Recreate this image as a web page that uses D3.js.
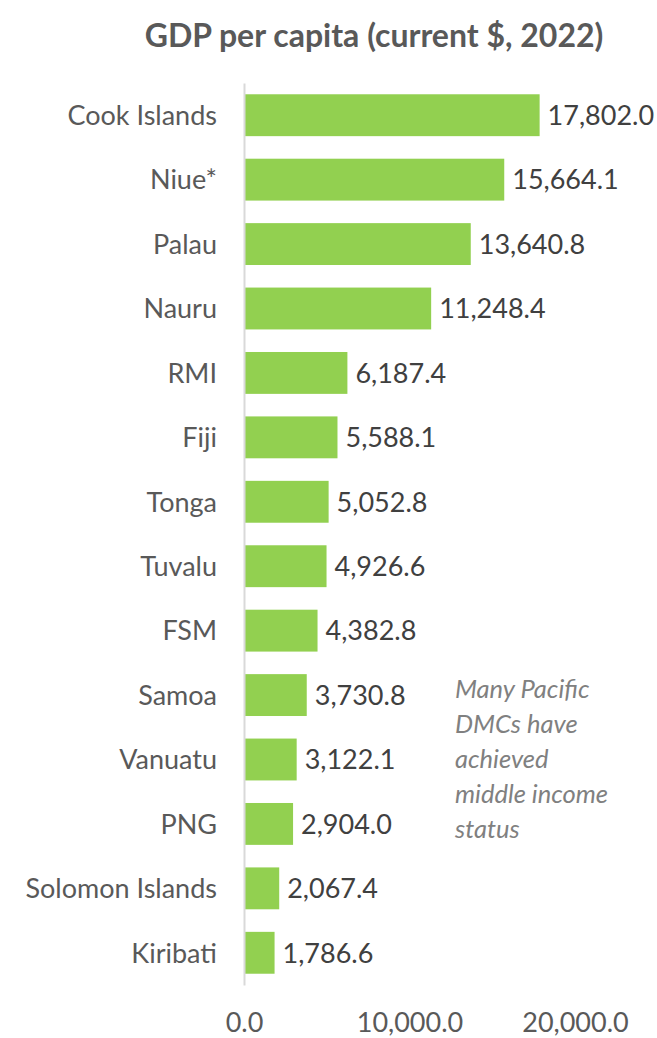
<!DOCTYPE html>
<html>
<head>
<meta charset="utf-8">
<script src="https://cdn.jsdelivr.net/npm/d3@7"></script>
<style>
  body { margin: 0; background: #fff; }
  text { font-family: Lato, "Open Sans", sans-serif; }
</style>
</head>
<body>
<div id="chart"></div>
<script>
// data
var countries = ["Cook Islands", "Niue*", "Palau", "Nauru", "RMI", "Fiji", "Tonga",
  "Tuvalu", "FSM", "Samoa", "Vanuatu", "PNG", "Solomon Islands", "Kiribati"];
var gdp = [17802.0, 15664.1, 13640.8, 11248.4, 6187.4, 5588.1, 5052.8,
  4926.6, 4382.8, 3730.8, 3122.1, 2904.0, 2067.4, 1786.6];
var xTicks = [0, 10000, 20000];
var note = ["Many Pacific", "DMCs have", "achieved", "middle income", "status"];

var rows = countries.map(function(c, i) { return {name: c, value: gdp[i]}; });

var svgWidth = 657;
var svgHeight = 1038;
var margin = {top: 83, right: 80, bottom: 53, left: 244};

var width = svgWidth - margin.left - margin.right;
var height = svgHeight - margin.top - margin.bottom;

var svg = d3.select("#chart")
  .append("svg")
  .attr("width", svgWidth)
  .attr("height", svgHeight);

var chartGroup = svg.append("g")
  .attr("transform", `translate(${margin.left}, ${margin.top})`);

var x = d3.scaleLinear()
  .domain([0, 20000])
  .range([0, 331]);

var y = d3.scaleBand()
  .domain(countries)
  .range([0, height])
  .paddingInner(0.35)
  .paddingOuter(0.175);

var fmt = d3.format(",.1f");

// title
svg.append("text")
  .attr("x", 374)
  .attr("y", 47)
  .attr("text-anchor", "middle")
  .attr("font-size", 32)
  .attr("font-weight", "bold")
  .attr("fill", "#595959")
  .text("GDP per capita (current $, 2022)");

// bars
chartGroup.selectAll(".bar")
  .data(rows)
  .enter()
  .append("rect")
  .attr("class", "bar")
  .attr("x", 1)
  .attr("y", d => y(d.name))
  .attr("width", d => x(d.value))
  .attr("height", y.bandwidth())
  .attr("fill", "#92D050");

// value labels
chartGroup.selectAll(".val")
  .data(rows)
  .enter()
  .append("text")
  .attr("class", "val")
  .attr("x", d => x(d.value) + 9)
  .attr("y", d => y(d.name) + y.bandwidth() / 2)
  .attr("dy", "0.36em")
  .attr("font-size", 27)
  .attr("fill", "#404040")
  .text(d => fmt(d.value));

// category axis
var leftAxis = d3.axisLeft(y).tickSize(0).tickPadding(27);
var yAxisG = chartGroup.append("g").call(leftAxis);
yAxisG.select(".domain").attr("stroke", "#d9d9d9").attr("stroke-width", 2);
yAxisG.selectAll("text")
  .attr("font-size", 27)
  .attr("fill", "#595959")
  .attr("dy", "0.36em");

// value axis, labels only
var bottomAxis = d3.axisBottom(x).tickValues(xTicks).tickFormat(fmt).tickSize(0).tickPadding(0);
var xAxisG = chartGroup.append("g")
  .attr("transform", `translate(0, ${height + 47})`)
  .call(bottomAxis);
xAxisG.select(".domain").remove();
xAxisG.selectAll("text")
  .attr("font-size", 27)
  .attr("fill", "#595959")
  .attr("dy", 0);

// annotation
svg.append("text")
  .attr("x", 455)
  .attr("y", 698)
  .attr("font-size", 25.5)
  .attr("font-style", "italic")
  .attr("fill", "#808080")
  .selectAll("tspan")
  .data(note)
  .enter()
  .append("tspan")
  .attr("x", 455)
  .attr("dy", (d, i) => i === 0 ? 0 : 35)
  .text(d => d);
</script>
</body>
</html>
